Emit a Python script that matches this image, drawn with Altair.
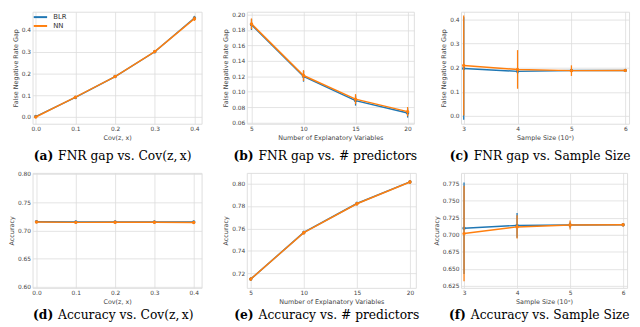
import altair as alt
import pandas as pd

MODELS = ["BLR", "NN"]
COLORS = ["#1f77b4", "#ff7f0e"]

# (a) FNR gap vs Cov(z, x)
cov_x = [0.0, 0.1, 0.2, 0.3, 0.4]
a_blr = [0.002, 0.090, 0.186, 0.300, 0.455]
a_blr_err = [0.003, 0.004, 0.004, 0.005, 0.010]
a_nn = [0.000, 0.091, 0.186, 0.301, 0.452]
a_nn_err = [0.003, 0.004, 0.004, 0.005, 0.010]

# (b) FNR gap vs # predictors
npred_x = [5, 10, 15, 20]
b_blr = [0.187, 0.120, 0.0885, 0.0725]
b_blr_err = [0.007, 0.007, 0.0065, 0.006]
b_nn = [0.188, 0.121, 0.0904, 0.0742]
b_nn_err = [0.007, 0.007, 0.0065, 0.006]

# (c) FNR gap vs sample size
size_x = [3, 4, 5, 6]
c_blr = [0.197, 0.185, 0.189, 0.189]
c_blr_err = [0.212, 0.010, 0.004, 0.002]
c_nn = [0.209, 0.193, 0.188, 0.189]
c_nn_err = [0.207, 0.080, 0.022, 0.003]

# (d) Accuracy vs Cov(z, x)
d_blr = [0.7155, 0.7150, 0.7150, 0.7150, 0.7150]
d_blr_err = [0.002, 0.002, 0.002, 0.002, 0.002]
d_nn = [0.7148, 0.7142, 0.7143, 0.7143, 0.7141]
d_nn_err = [0.002, 0.002, 0.002, 0.002, 0.002]

# (e) Accuracy vs # predictors
e_blr = [0.7148, 0.7564, 0.7822, 0.8015]
e_blr_err = [0.0015, 0.0015, 0.0015, 0.0015]
e_nn = [0.7148, 0.7562, 0.7820, 0.8014]
e_nn_err = [0.0015, 0.0015, 0.0015, 0.0015]

# (f) Accuracy vs sample size
f_blr = [0.7095, 0.7137, 0.7142, 0.7146]
f_blr_err = [0.067, 0.018, 0.004, 0.002]
f_nn = [0.7017, 0.7115, 0.7143, 0.7146]
f_nn_err = [0.070, 0.017, 0.0066, 0.002]

FNR_TITLE = "False Negative Rate Gap"
ACC_TITLE = "Accuracy"
COV_TITLE = "Cov(z, x)"
NPRED_TITLE = "Number of Explanatory Variables"
SIZE_TITLE = "Sample Size (10ˣ)"

CAP_FONT = "DejaVu Serif"
CAP_SIZE = 12.5


def panel(xs, blr, blr_err, nn, nn_err, xdom, ydom, xticks, yticks, xfmt, yfmt,
          xtitle, ytitle, w, h, leg_x, leg_y, tag, caption, split_x, cap_dy):
    rows = []
    for m, ys, es in (("BLR", blr, blr_err), ("NN", nn, nn_err)):
        for xv, yv, ev in zip(xs, ys, es):
            rows.append({"x": xv, "y": yv, "lo": yv - ev, "hi": yv + ev, "model": m})
    df = pd.DataFrame(rows)
    xscale = alt.Scale(domain=xdom, nice=False, zero=False)
    yscale = alt.Scale(domain=ydom, nice=False, zero=False)
    xaxis = alt.Axis(values=xticks, format=xfmt, title=xtitle)
    yaxis = alt.Axis(values=yticks, format=yfmt, title=ytitle)
    xenc = alt.X("x:Q", scale=xscale, axis=xaxis)
    yenc = alt.Y("y:Q", scale=yscale, axis=yaxis)
    cenc = alt.Color("model:N", scale=alt.Scale(domain=MODELS, range=COLORS),
                     legend=alt.Legend(title=None, orient="none", legendX=leg_x,
                                       legendY=leg_y, symbolType="M-1.7,0H1.7"))
    layers = []
    for m in MODELS:
        base = alt.Chart(df).transform_filter(alt.datum.model == m)
        layers.append(base.mark_line(strokeWidth=1.5).encode(x=xenc, y=yenc, color=cenc))
        layers.append(base.mark_rule(strokeWidth=1.3).encode(
            x=xenc, y=alt.Y("lo:Q", scale=yscale, axis=yaxis), y2="hi:Q", color=cenc))
        layers.append(base.mark_point(filled=True, size=12, opacity=1).encode(
            x=xenc, y=yenc, color=cenc))
    cap_y = h + cap_dy
    tdf = pd.DataFrame({"t": ["(" + tag + ")"]})
    cdf = pd.DataFrame({"t": [caption]})
    layers.append(alt.Chart(tdf).mark_text(
        font=CAP_FONT, fontSize=CAP_SIZE, fontWeight="bold", align="right",
        baseline="alphabetic", color="black").encode(
        text="t:N", x=alt.value(split_x - 5), y=alt.value(cap_y)))
    layers.append(alt.Chart(cdf).mark_text(
        font=CAP_FONT, fontSize=CAP_SIZE, align="left",
        baseline="alphabetic", color="black").encode(
        text="t:N", x=alt.value(split_x), y=alt.value(cap_y)))
    return alt.layer(*layers).properties(width=w, height=h)


H1, H2 = 114, 117
pa = panel(cov_x, a_blr, a_blr_err, a_nn, a_nn_err, [-0.008, 0.418], [-0.031, 0.484],
           [0.0, 0.1, 0.2, 0.3, 0.4], [0.0, 0.1, 0.2, 0.3, 0.4], ".1f", ".1f",
           COV_TITLE, FNR_TITLE, 172, H1, 3, 0.5, "a", "FNR gap vs. Cov(z,\u2009x)", 26, 37)
pb = panel(npred_x, b_blr, b_blr_err, b_nn, b_nn_err, [4.55, 20.6], [0.0585, 0.2037],
           [5, 10, 15, 20], [0.06, 0.08, 0.10, 0.12, 0.14, 0.16, 0.18, 0.20], "d", ".2f",
           NPRED_TITLE, FNR_TITLE, 170, H1, 170 - 38, 2.5, "b", "FNR gap vs. # predictors", 12, 37)
pc = panel(size_x, c_blr, c_blr_err, c_nn, c_nn_err, [2.95, 6.07], [-0.032, 0.432],
           [3, 4, 5, 6], [0.0, 0.1, 0.2, 0.3, 0.4], "d", ".1f",
           SIZE_TITLE, FNR_TITLE, 171, H1, 171 - 37, 0.5, "c", "FNR gap vs. Sample Size", 13, 37)
pd_ = panel(cov_x, d_blr, d_blr_err, d_nn, d_nn_err, [-0.01, 0.42], [0.598, 0.802],
            [0.0, 0.1, 0.2, 0.3, 0.4], [0.60, 0.65, 0.70, 0.75, 0.80], ".1f", ".2f",
            COV_TITLE, ACC_TITLE, 172, H2, 172 - 40, 3.5, "d", "Accuracy vs. Cov(z,\u2009x)", 26, 32)
pe = panel(npred_x, e_blr, e_blr_err, e_nn, e_nn_err, [4.63, 20.55], [0.707, 0.8095],
           [5, 10, 15, 20], [0.72, 0.74, 0.76, 0.78, 0.80], "d", ".2f",
           NPRED_TITLE, ACC_TITLE, 172, H2, 2, 3.5, "e", "Accuracy vs. # predictors", 12, 32)
pf = panel(size_x, f_blr, f_blr_err, f_nn, f_nn_err, [2.943, 6.075], [0.6222, 0.7906],
           [3, 4, 5, 6], [0.625, 0.650, 0.675, 0.700, 0.725, 0.750, 0.775], "d", ".3f",
           SIZE_TITLE, ACC_TITLE, 169, H2, 169 - 36, 4.5, "f", "Accuracy vs. Sample Size", 10, 32)

chart = alt.concat(pa, pb, pc, pd_, pe, pf, columns=3,
                   spacing={"row": 50, "column": 46}, bounds="flush", align="none")
chart = chart.properties(padding=0, background="white").configure_view(
    stroke="#dedede", strokeWidth=1
).configure_axis(
    grid=True, gridColor="#dddddd", gridWidth=0.8, ticks=False, domain=False,
    labelOverlap=False, labelFlush=False,
    labelFont="DejaVu Sans", labelFontSize=6, labelColor="#444444", labelPadding=2,
    titleFont="DejaVu Sans", titleFontSize=6.5, titleFontWeight="normal",
    titleColor="#444444", titlePadding=3
).configure_legend(
    labelFont="DejaVu Sans", labelFontSize=7, labelColor="#333333", padding=0,
    symbolSize=64, symbolStrokeWidth=2, labelOffset=8, rowPadding=0
)

chart.save("out.html", embed_options={"renderer": "svg", "actions": False})
